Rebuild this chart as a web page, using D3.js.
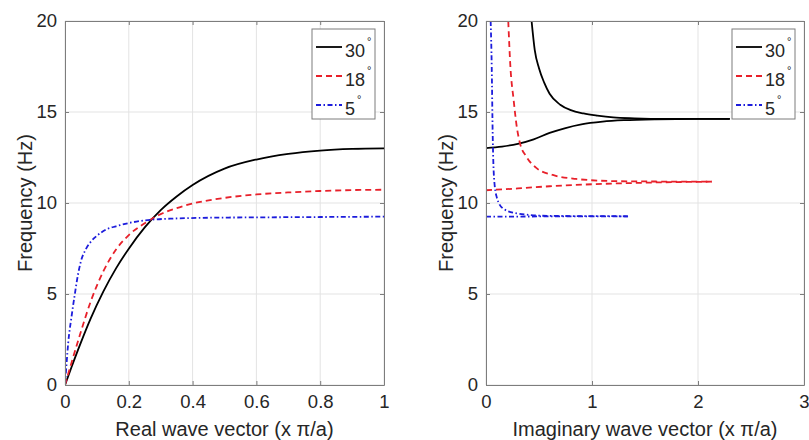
<!DOCTYPE html>
<html>
<head>
<meta charset="utf-8">
<script src="https://cdn.jsdelivr.net/npm/d3@7"></script>
<style>
  html, body { margin: 0; padding: 0; background: #fff; }
  svg text { font-family: Arial, "Liberation Sans", Helvetica, sans-serif; fill: #262626; }
</style>
</head>
<body>
<svg id="fig" width="809" height="440"></svg>
<script>
// Dispersion curves: frequency vs. real / imaginary wave vector, three incline angles.
const angles = ["30", "18", "5"];
const colors = ["#000000", "#e8202a", "#1c1cdc"];
const dashes = [null, "6,4", "5,2.5,1.5,2.5"];

const yTicks = [0, 5, 10, 15, 20];
const xTicksReal = [0, 0.2, 0.4, 0.6, 0.8, 1];
const xTicksImag = [0, 1, 2, 3];

// Real branch: [k (x pi/a), frequency (Hz)]
const real30 = [[0,0],[0.02,0.96],[0.05,2.34],[0.08,3.63],[0.12,5.13],[0.16,6.41],[0.2,7.49],[0.25,8.66],
  [0.3,9.61],[0.35,10.36],[0.4,10.99],[0.5,11.89],[0.6,12.39],[0.7,12.7],[0.8,12.88],[0.9,12.97],[1.0,13.0]];
const real18 = [[0,0],[0.02,1.2],[0.05,2.94],[0.08,4.56],[0.12,6.24],[0.16,7.44],[0.2,8.24],[0.25,8.89],
  [0.3,9.39],[0.35,9.72],[0.4,9.97],[0.5,10.28],[0.6,10.47],[0.7,10.58],[0.8,10.66],[0.9,10.71],[1.0,10.73]];
const real5 = [[0,0],[0.005,1.2],[0.01,2.3],[0.02,3.7],[0.03,4.9],[0.04,6.0],[0.05,6.8],[0.065,7.45],
  [0.08,7.85],[0.1,8.2],[0.13,8.55],[0.16,8.72],[0.2,8.9],[0.27,9.08],[0.35,9.15],[0.45,9.19],
  [0.6,9.21],[0.8,9.23],[1.0,9.25]];

// Imaginary branches (lower and upper) for each angle
const imag30Low = [[0,13.02],[0.15,13.1],[0.3,13.25],[0.45,13.5],[0.6,13.85],[0.75,14.12],[0.9,14.32],
  [1.1,14.47],[1.3,14.55],[1.6,14.6],[2.0,14.62],[2.3,14.62]];
const imag30High = [[0.43,20],[0.46,18.4],[0.5,17.4],[0.55,16.6],[0.6,16.0],[0.7,15.4],[0.8,15.1],
  [0.92,14.92],[1.05,14.8],[1.2,14.7],[1.4,14.65],[1.7,14.62],[2.3,14.62]];
const imag18Low = [[0,10.7],[0.3,10.8],[0.6,10.92],[1.0,11.03],[1.4,11.1],[1.8,11.15],[2.13,11.17]];
const imag18High = [[0.21,20],[0.23,17.5],[0.26,15.7],[0.29,14.2],[0.32,13.3],[0.38,12.55],[0.48,11.9],
  [0.63,11.54],[0.85,11.32],[1.23,11.2],[1.6,11.18],[2.13,11.17]];
const imag5Low = [[0,9.25],[0.5,9.26],[1.0,9.27],[1.34,9.27]];
const imag5High = [[0.044,20],[0.054,17.5],[0.063,13.8],[0.075,11.45],[0.1,10.35],[0.16,9.7],
  [0.29,9.43],[0.6,9.29],[1.0,9.28],[1.34,9.27]];

const svg = d3.select("#fig");

function panel(id, x0, x1, xDomain, xTicks, xFmt, xTitle, seriesByAngle) {
  const top = 21, bottom = 385;
  const x = d3.scaleLinear().domain(xDomain).range([x0, x1]);
  const y = d3.scaleLinear().domain([0, 20]).range([bottom, top]);
  const g = svg.append("g");

  g.append("clipPath").attr("id", "clip-" + id)
    .append("rect").attr("x", x0).attr("y", top).attr("width", x1 - x0).attr("height", bottom - top);

  // grid
  g.append("g").selectAll("line").data(xTicks).join("line")
    .attr("x1", d => x(d)).attr("x2", d => x(d)).attr("y1", top).attr("y2", bottom)
    .attr("stroke", "#e3e3e3").attr("stroke-width", 1);
  g.append("g").selectAll("line").data(yTicks).join("line")
    .attr("x1", x0).attr("x2", x1).attr("y1", d => y(d)).attr("y2", d => y(d))
    .attr("stroke", "#e3e3e3").attr("stroke-width", 1);

  // curves
  const line = d3.line().x(d => x(d[0])).y(d => y(d[1])).curve(d3.curveMonotoneX);
  const curves = g.append("g").attr("clip-path", `url(#clip-${id})`);
  seriesByAngle.forEach((branches, i) => {
    branches.forEach(b => {
      curves.append("path").datum(b).attr("d", line)
        .attr("fill", "none").attr("stroke", colors[i]).attr("stroke-width", 1.8)
        .attr("stroke-dasharray", dashes[i]);
    });
  });

  // axes with inward ticks, on all four sides
  const axStyle = sel => {
    sel.select(".domain").attr("stroke", "#7d7d7d");
    sel.selectAll(".tick line").attr("stroke", "#7d7d7d");
    sel.selectAll("text").attr("font-size", 18.5).attr("fill", "#262626")
      .attr("font-family", "Arial, 'Liberation Sans', sans-serif");
  };
  g.append("g").attr("transform", `translate(0,${bottom})`)
    .call(d3.axisBottom(x).tickValues(xTicks).tickFormat(xFmt).tickSizeInner(-4).tickSizeOuter(0).tickPadding(10))
    .call(axStyle);
  g.append("g").attr("transform", `translate(0,${top})`)
    .call(d3.axisTop(x).tickValues(xTicks).tickFormat("").tickSizeInner(-4).tickSizeOuter(0))
    .call(axStyle);
  g.append("g").attr("transform", `translate(${x0},0)`)
    .call(d3.axisLeft(y).tickValues(yTicks).tickFormat(d3.format("d")).tickSizeInner(-4).tickSizeOuter(0).tickPadding(8))
    .call(axStyle);
  g.append("g").attr("transform", `translate(${x1},0)`)
    .call(d3.axisRight(y).tickValues(yTicks).tickFormat("").tickSizeInner(-4).tickSizeOuter(0))
    .call(axStyle);

  // axis titles
  g.append("text").attr("x", (x0 + x1) / 2).attr("y", 436).attr("text-anchor", "middle")
    .attr("font-size", 20).text(xTitle);
  g.append("text").attr("transform", `translate(${x0 - 33},${(top + bottom) / 2}) rotate(-90)`)
    .attr("text-anchor", "middle").attr("font-size", 20).text("Frequency (Hz)");

  // legend
  const lx = x1 - 72, ly = top + 8;
  const lg = g.append("g").attr("transform", `translate(${lx},${ly})`);
  lg.append("rect").attr("x", 0).attr("y", 0).attr("width", 63).attr("height", 90)
    .attr("fill", "#fff").attr("stroke", "#7d7d7d").attr("stroke-width", 1);
  angles.forEach((a, i) => {
    const cy = 18 + i * 29;
    lg.append("line").attr("x1", 4).attr("x2", 30).attr("y1", cy).attr("y2", cy)
      .attr("stroke", colors[i]).attr("stroke-width", 1.8).attr("stroke-dasharray", dashes[i]);
    const t = lg.append("text").attr("x", 33).attr("y", cy + 9.5).attr("font-size", 18);
    t.append("tspan").text(a);
    t.append("tspan").attr("font-size", 11).attr("dx", 2).attr("dy", -12).text("°");
  });
}

panel("re", 65, 384, [0, 1], xTicksReal, d => d === 0 || d === 1 ? d3.format("d")(d) : d3.format(".1f")(d),
  "Real wave vector (x \u03C0/a)", [[real30], [real18], [real5]]);
panel("im", 486, 804, [0, 3], xTicksImag, d3.format("d"),
  "Imaginary wave vector (x \u03C0/a)", [[imag30Low, imag30High], [imag18Low, imag18High], [imag5Low, imag5High]]);
</script>
</body>
</html>
